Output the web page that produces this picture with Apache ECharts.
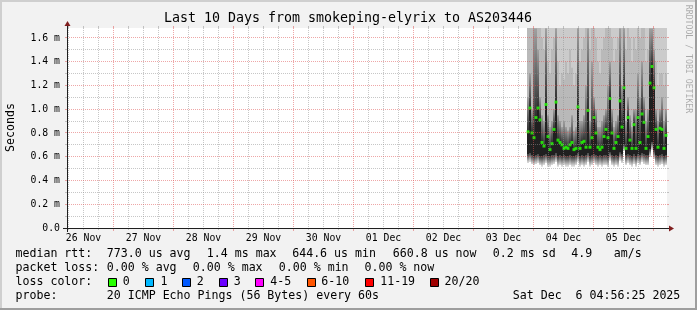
<!DOCTYPE html>
<html><head><meta charset="utf-8">
<script src="https://cdn.jsdelivr.net/npm/echarts@6/dist/echarts.min.js"></script>
<style>html,body{margin:0;padding:0;background:#f2f2f2}#c{width:697px;height:310px}</style>
</head><body><div id="c"></div>
<script>
const FONT = '"DejaVu Sans Mono"';
// ---- axes / ticks ----
const dayLabels = ['26 Nov','27 Nov','28 Nov','29 Nov','30 Nov','01 Dec','02 Dec','03 Dec','04 Dec','05 Dec'];
const dayLabelHours = [12,36,60,84,108,132,156,180,204,228];      // hours since 26 Nov 00:00 (noon)
const dayBoundaryHours = [24,48,72,96,120,144,168,192,216,240];
const yTickValues = [0,0.2,0.4,0.6,0.8,1.0,1.2,1.4,1.6];          // milliseconds
const yMinorValues = [0.1,0.3,0.5,0.7,0.9,1.1,1.3,1.5];
const xMin = 5.4, xMax = 245.4, yMax = 1.684;
// ---- samples: first sample time (hours since 26 Nov 00:00) and step ----
const sampleStart = 189.4;
const stepHours = 0.8;
// smoke bottom (fastest pings), ms
const smokeLow = [0.55,0.56,0.54,0.53,0.54,0.55,0.53,0.52,0.53,0.55,
  0.52,0.52,0.53,0.54,0.56,0.52,0.53,0.52,0.53,0.52,
  0.52,0.53,0.52,0.52,0.53,0.56,0.52,0.53,0.52,0.53,
  0.56,0.52,0.53,0.55,0.53,0.52,0.53,0.52,0.53,0.53,
  0.52,0.57,0.53,0.52,0.53,0.52,0.57,0.55,0.65,0.53,
  0.55,0.53,0.52,0.54,0.52,0.55,0.53,0.56,0.54,0.53,
  0.53,0.60,0.66,0.58,0.53,0.52,0.53,0.54,0.52,0.53];
// bottom of dense (dark) smoke
const smokeDense = [0.62,0.63,0.61,0.60,0.61,0.62,0.60,0.60,0.61,0.62,
  0.60,0.60,0.61,0.61,0.63,0.60,0.61,0.60,0.61,0.60,
  0.60,0.61,0.60,0.60,0.61,0.63,0.60,0.61,0.60,0.61,
  0.63,0.60,0.61,0.62,0.61,0.60,0.61,0.60,0.61,0.61,
  0.60,0.64,0.61,0.60,0.61,0.60,0.64,0.62,0.70,0.61,
  0.62,0.61,0.60,0.62,0.60,0.62,0.61,0.63,0.62,0.61,
  0.61,0.66,0.72,0.65,0.61,0.60,0.61,0.62,0.60,0.61];
// median rtt
const median = [0.81,1.01,0.80,0.76,0.93,1.01,0.91,0.72,0.69,1.04,
  0.77,0.66,0.71,0.83,1.06,0.74,0.72,0.70,0.67,0.68,
  0.67,0.70,0.72,0.66,0.67,1.02,0.67,0.72,0.73,0.68,
  0.99,0.68,0.76,0.93,0.80,0.68,0.66,0.68,0.77,0.83,
  0.76,1.09,0.80,0.67,0.72,0.77,1.07,0.85,1.18,0.67,
  0.93,0.74,0.67,0.87,0.67,0.93,0.72,0.96,0.89,0.67,
  0.77,1.22,1.36,1.18,0.83,0.68,0.84,0.83,0.67,0.78];
// top of darker smoke above the median
const smokeUpper = [1.10,1.30,1.00,1.68,1.68,1.50,1.10,0.95,0.90,1.68,
  0.95,0.85,0.90,1.00,1.68,0.95,0.90,0.85,0.90,0.85,
  0.82,0.85,0.95,0.82,0.85,1.68,0.90,0.90,0.95,1.20,
  1.68,0.90,1.40,1.10,1.00,0.85,0.85,0.90,0.95,1.00,
  1.20,1.40,1.00,0.85,0.90,0.95,1.68,1.20,1.68,0.90,
  1.10,0.95,0.85,1.00,1.00,1.30,1.10,1.40,1.10,0.90,
  1.00,1.68,1.68,1.50,1.00,0.90,1.00,1.10,0.90,1.00];
// top of medium smoke
const smokeMid = [1.9,1.9,1.9,1.9,1.9,1.9,1.9,1.6,1.5,1.9,
  1.4,1.3,1.5,1.6,1.9,1.4,1.2,1.3,1.25,1.4,
  1.3,1.5,1.35,1.2,1.3,1.9,1.4,1.5,1.6,1.9,
  1.9,1.5,1.9,1.7,1.6,1.4,1.3,1.5,1.6,1.7,
  1.9,1.9,1.6,1.4,1.5,1.6,1.9,1.8,1.9,1.5,
  1.7,1.6,1.4,1.6,1.5,1.8,1.6,1.9,1.7,1.4,
  1.5,1.9,1.9,1.8,1.4,1.2,1.3,1.3,1.2,1.3];
// smoke top (slowest pings, above the visible range)
const smokeTop = [2.3,2.1,2.4,2.6,2.5,2.2,2.0,1.9,1.95,2.4,
  2.0,1.9,2.1,2.2,2.5,2.0,1.9,1.95,1.9,2.0,
  1.9,2.1,2.0,1.9,1.95,2.4,2.0,2.1,2.2,2.3,
  2.5,2.0,2.3,2.2,2.1,1.95,1.9,2.0,2.1,2.2,
  2.3,2.4,2.1,1.95,2.0,2.1,2.5,2.3,2.6,2.0,
  2.2,2.1,1.95,2.1,2.0,2.3,2.1,2.4,2.2,1.95,
  2.0,2.6,2.7,2.4,2.1,1.9,2.0,2.0,1.9,1.95];
// ---- legend text ----
const lossLabels = ['0','1','2','3','4-5','6-10','11-19','20/20'];
const lossColors = ['#26ff00','#00b8ff','#0059ff','#6a00ff','#ff00ff','#ff5500','#ff0000','#a00000'];

const chart = echarts.init(document.getElementById('c'), null, {renderer:'canvas'});

const smokeData = median.map((m, i) => [sampleStart + i*stepHours, smokeLow[i], smokeDense[i], m, smokeUpper[i], smokeMid[i], smokeTop[i]]);
const medData = median.map((m, i) => [sampleStart + i*stepHours + stepHours/2, m]);

const gridData = [];
for (let h = 6; h < xMax; h += 6) if (h > xMin && dayBoundaryHours.indexOf(h) < 0) gridData.push([0, h]);
dayBoundaryHours.forEach(h => gridData.push([1, h]));
yMinorValues.forEach(v => gridData.push([2, v]));
yTickValues.forEach(v => { if (v > 0) gridData.push([3, v]); });
gridData.push([4, 0]);

function renderSmoke(params, api) {
  const t = api.value(0);
  const lo = api.value(1), dk = api.value(2), md = api.value(3), up = api.value(4), mid = api.value(5), top = api.value(6);
  const cs = params.coordSys;
  const xa = Math.round(api.coord([t, 0])[0]), xb = Math.round(api.coord([t + stepHours, 0])[0]);
  const rect = (a, b, fill) => {
    let ya = api.coord([t, a])[1], yb = api.coord([t, b])[1];
    ya = Math.min(Math.max(ya, cs.y), cs.y + cs.height);
    yb = Math.min(Math.max(yb, cs.y), cs.y + cs.height);
    if (ya - yb <= 0) return null;
    return {type:'rect', shape:{x:xa, y:yb, width:xb - xa, height:ya - yb}, style:{fill}};
  };
  const grad = (c1, c2) => new echarts.graphic.LinearGradient(0,0,0,1,[{offset:0,color:c1},{offset:1,color:c2}]);
  const kids = [
    rect(lo, top, '#cbcbcb'),
    rect(lo, mid, '#b9b9b9'),
    rect(lo, dk, grad('#3c3c3c','#e0e0e0')),
    rect(md, up, grad('#a0a0a0','#2e2e2e')),
    rect(dk, md, '#202020')
  ].filter(Boolean);
  return {type:'group', children:kids};
}

function renderGrid(params, api) {
  const kind = api.value(0), v = api.value(1);
  const cs = params.coordSys;
  const X0 = cs.x, X1 = cs.x + cs.width, Y1 = cs.y, Y0 = cs.y + cs.height;
  const px = n => Math.floor(n) + 0.5;
  const minorC = 'rgba(143,143,143,0.5)', majorC = 'rgba(222,79,79,0.5)';
  const seg = (x1, y1, x2, y2, stroke, dash) => ({type:'line', shape:{x1, y1, x2, y2}, style:{stroke, lineWidth:1, lineDash: dash || null}});
  if (kind === 0 || kind === 1) {
    const x = px(api.coord([v, 0])[0]);
    const c = kind ? majorC : minorC;
    return {type:'group', children:[seg(x, Y1 - 2, x, Y1, c), seg(x, Y1, x, Y0, c, [1,1]), seg(x, Y0, x, Y0 + (kind ? 3 : 2), c)]};
  }
  if (kind === 2 || kind === 3) {
    const y = px(api.coord([xMin, v])[1]);
    const c = kind === 3 ? majorC : minorC;
    return {type:'group', children:[seg(X0 - 2, y, X0, y, c), seg(X0, y, X1, y, c, [1,1]), seg(X1, y, X1 + 2, y, c)]};
  }
  const ax = px(X0), ay = px(Y0);
  return {type:'group', children:[
    seg(X0 - 4, ay, X1 + 4, ay, '#1f1f1f'),
    seg(ax, Y0 + 4, ax, Y1 - 4, '#1f1f1f'),
    {type:'polygon', shape:{points:[[X1 + 2, ay - 3],[X1 + 2, ay + 3],[X1 + 7, ay]]}, style:{fill:'#801f1f'}},
    {type:'polygon', shape:{points:[[ax - 3, Y1 - 2],[ax + 3, Y1 - 2],[ax, Y1 - 7]]}, style:{fill:'#801f1f'}}
  ]};
}

const txt = (x, y, text, size, extra) => Object.assign({
  type:'text', x, y,
  style:Object.assign({text, font: size + 'px ' + FONT, fill:'#000', textAlign:'left', textVerticalAlign:'middle', align:'left', verticalAlign:'middle'}, extra || {})
});
const LF = 11.6;
const elements = [
  {type:'rect', shape:{x:0, y:0, width:697, height:2}, style:{fill:'#cfcfcf'}},
  {type:'rect', shape:{x:0, y:0, width:2, height:310}, style:{fill:'#cfcfcf'}},
  {type:'rect', shape:{x:0, y:308, width:697, height:2}, style:{fill:'#9e9e9e'}},
  {type:'rect', shape:{x:695, y:0, width:2, height:310}, style:{fill:'#9e9e9e'}},
  txt(348, 19, 'Last 10 Days from smokeping-elyrix to AS203446', 13.3, {textAlign:'center', align:'center'}),
  Object.assign(txt(11, 127.5, 'Seconds', LF, {textAlign:'center', align:'center'}), {rotation: Math.PI/2}),
  Object.assign(txt(688.5, 59, 'RRDTOOL / TOBI OETIKER', 8.2, {textAlign:'center', align:'center', fill:'rgba(0,0,0,0.3)'}), {rotation: -Math.PI/2}),
  txt(15.5, 254.3, 'median rtt:', LF), txt(106.8, 254.3, '773.0 us avg', LF), txt(206.8, 254.3, '1.4 ms max', LF),
  txt(292.2, 254.3, '644.6 us min', LF), txt(392.8, 254.3, '660.8 us now', LF), txt(492.8, 254.3, '0.2 ms sd', LF),
  txt(571.2, 254.3, '4.9', LF), txt(613.8, 254.3, 'am/s', LF),
  txt(15.5, 268.3, 'packet loss:', LF), txt(106.8, 268.3, '0.00 % avg', LF), txt(192.8, 268.3, '0.00 % max', LF),
  txt(278.8, 268.3, '0.00 % min', LF), txt(364.5, 268.3, '0.00 % now', LF),
  txt(15.5, 282.3, 'loss color:', LF),
  txt(15.5, 296.3, 'probe:', LF), txt(106.8, 296.3, '20 ICMP Echo Pings (56 Bytes) every 60s', LF),
  txt(512.8, 296.3, 'Sat Dec  6 04:56:25 2025', LF)
];
const swatchX = [108.5, 145.5, 182.5, 219.5, 255.5, 307.5, 365.5, 430.5];
const swatchLabelX = [122.8, 160.5, 196.8, 233.8, 270.2, 321.2, 380.2, 444.5];
lossLabels.forEach((l, i) => {
  elements.push({type:'rect', shape:{x:swatchX[i], y:278.5, width:8, height:8}, style:{fill:lossColors[i], stroke:'#000', lineWidth:1}});
  elements.push(txt(swatchLabelX[i], 282.3, l, LF));
});

chart.setOption({
  animation:false,
  backgroundColor:'#f2f2f2',
  grid:{left:67, top:28, width:600, height:200, show:true, backgroundColor:'#ffffff', borderWidth:0},
  xAxis:{type:'value', min:xMin, max:xMax,
    axisLine:{show:false}, axisTick:{show:false}, splitLine:{show:false},
    axisLabel:{customValues:dayLabelHours, formatter:v => { const k = dayLabelHours.indexOf(v); return k >= 0 ? dayLabels[k] : ''; },
      fontFamily:'DejaVu Sans Mono', fontSize:9.8, color:'#000', margin:5}},
  yAxis:{type:'value', min:0, max:yMax,
    axisLine:{show:false}, axisTick:{show:false}, splitLine:{show:false},
    axisLabel:{customValues:yTickValues, formatter:v => v === 0 ? '0.0' : v.toFixed(1) + ' m',
      fontFamily:'DejaVu Sans Mono', fontSize:9.8, color:'#000', margin:7}},
  series:[
    {type:'custom', name:'smoke', renderItem:renderSmoke, data:smokeData, z:2, silent:true},
    {type:'scatter', name:'median', data:medData, symbol:'rect', symbolSize:[3,3], itemStyle:{color:'#22ff00'}, z:3, silent:true},
    {type:'custom', name:'grid', renderItem:renderGrid, data:gridData, z:4, silent:true}
  ],
  graphic:{elements}
});
</script></body></html>
